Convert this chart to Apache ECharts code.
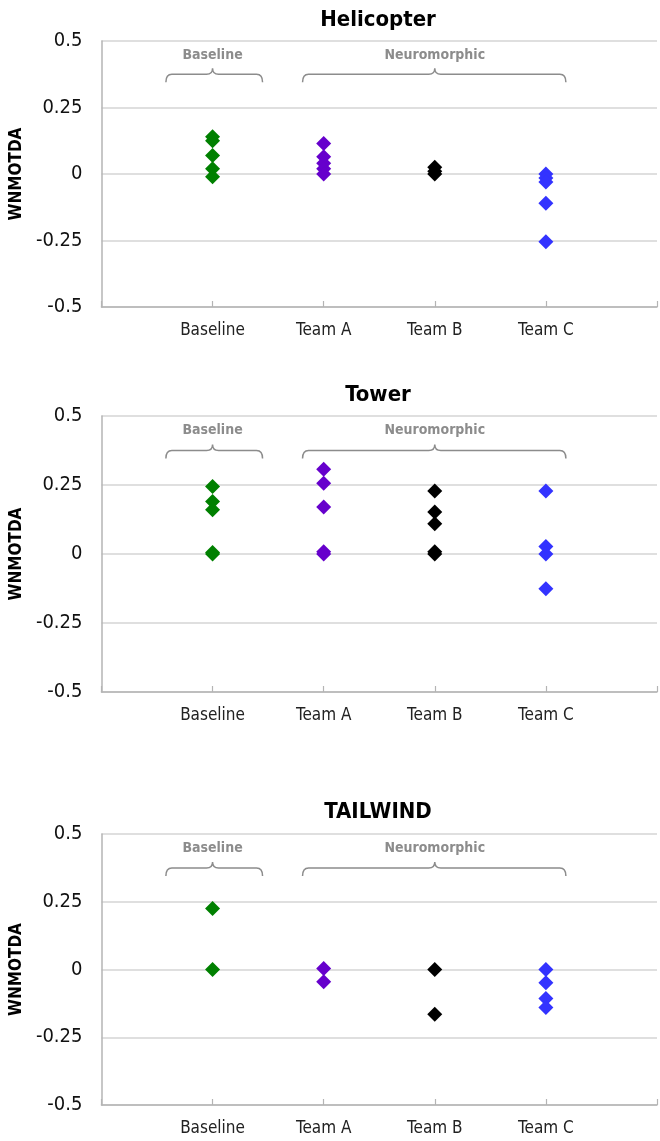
<!DOCTYPE html>
<html>
<head>
<meta charset="utf-8">
<script src="https://cdn.jsdelivr.net/npm/echarts@6/dist/echarts.min.js"></script>
<style>
html,body{margin:0;padding:0;background:#fff;}
#chart{width:660px;height:1141px;}
</style>
</head>
<body>
<div id="chart"></div>
<script>
// ---------- data ----------
const categories = ['Baseline', 'Team A', 'Team B', 'Team C'];
const panelTitles = ['Helicopter', 'Tower', 'TAILWIND'];
const yTickValues = [-0.5, -0.25, 0, 0.25, 0.5];
const yAxisTitle = 'WNMOTDA';

// Helicopter
const heliBaseline = [0.14, 0.125, 0.07, 0.02, -0.01];
const heliTeamA = [0.115, 0.065, 0.04, 0.02, 0.0];
const heliTeamB = [0.025, 0.01, 0.0];
const heliTeamC = [0.0, -0.015, -0.03, -0.11, -0.255];

// Tower
const towerBaseline = [0.245, 0.19, 0.16, 0.005, 0.0];
const towerTeamA = [0.307, 0.256, 0.17, 0.008, 0.0];
const towerTeamB = [0.228, 0.152, 0.11, 0.008, 0.0];
const towerTeamC = [0.228, 0.027, 0.0, -0.126];

// TAILWIND
const tailBaseline = [0.225, 0.0];
const tailTeamA = [0.004, -0.045];
const tailTeamB = [0.0, -0.165];
const tailTeamC = [0.0, -0.049, -0.107, -0.14];

// bracket groups (in category-index units; category i sits at i+1)
const groupNames = ['Baseline', 'Neuromorphic'];
const groupStart = [0.58, 1.81];
const groupEnd = [1.45, 4.18];
const groupCenter = [1, 3];

const panelData = [
  [heliBaseline, heliTeamA, heliTeamB, heliTeamC],
  [towerBaseline, towerTeamA, towerTeamB, towerTeamC],
  [tailBaseline, tailTeamA, tailTeamB, tailTeamC]
];

// ---------- styles / layout ----------
const FONT = '"DejaVu Sans Condensed", "DejaVu Sans", sans-serif';
const teamColors = ['#008000', '#6600cc', '#000000', '#3333ff'];
const gridTops = [41, 416, 834];
const gridHeights = [266, 276, 271];
const titleY = [20, 395, 812];
const plotLeft = 97;
const plotCenterX = 378;

const grids = [], xAxes = [], yAxes = [], series = [], graphics = [];

panelData.forEach((teams, p) => {
  grids.push({ left: plotLeft, right: 0, top: gridTops[p], height: gridHeights[p], containLabel: false });
  xAxes.push({
    type: 'value', gridIndex: p, min: 0, max: 5, interval: 1,
    axisLine: { show: true, onZero: false, lineStyle: { color: '#b4b4b4', width: 1.5 } },
    axisTick: { show: true, inside: true, length: 6, lineStyle: { color: '#b4b4b4', width: 1.2 } },
    splitLine: { show: false },
    axisLabel: {
      color: '#222', fontFamily: FONT, fontSize: 17, margin: 15,
      formatter: v => categories[v - 1] || ''
    }
  });
  yAxes.push({
    type: 'value', gridIndex: p, min: -0.5, max: 0.5, interval: 0.25,
    name: yAxisTitle, nameLocation: 'middle', nameGap: 76, nameRotate: 90,
    nameTextStyle: { fontFamily: FONT, fontWeight: 'bold', fontSize: 17, color: '#000' },
    axisLine: { show: true, onZero: false, lineStyle: { color: '#b4b4b4', width: 1.5 } },
    axisTick: { show: false },
    splitLine: { show: true, lineStyle: { color: '#d4d4d4', width: 1.5 } },
    axisLabel: {
      color: '#111', fontFamily: FONT, fontSize: 20, margin: 19,
      formatter: v => { const t = yTickValues.find(x => Math.abs(x - v) < 1e-9); return String(t !== undefined ? t : v); }
    }
  });
  teams.forEach((vals, t) => {
    series.push({
      name: categories[t], type: 'scatter', xAxisIndex: p, yAxisIndex: p,
      symbol: 'diamond', symbolSize: 15,
      itemStyle: { color: teamColors[t], opacity: 1 },
      emphasis: { disabled: true },
      data: vals.map(v => [t + 1, v]),
      z: 3
    });
  });
  // brackets
  series.push({
    type: 'custom', xAxisIndex: p, yAxisIndex: p, silent: true, z: 2,
    data: groupNames.map((n, i) => [groupStart[i], groupEnd[i], groupCenter[i]]),
    renderItem: (params, api) => {
      const i = params.dataIndex;
      const a = api.coord([api.value(0), 0.375]);
      const b = api.coord([api.value(1), 0.375]);
      const m = api.coord([api.value(2), 0.375]);
      const tpos = api.coord([api.value(2), 0.447]);
      const y = a[1], x0 = a[0], x1 = b[0], xm = m[0];
      const r = 6, h = 6;
      const path = `M${x0},${y + r + 2} Q${x0},${y} ${x0 + r},${y} L${xm - h},${y} Q${xm},${y} ${xm},${y - h} Q${xm},${y} ${xm + h},${y} L${x1 - r},${y} Q${x1},${y} ${x1},${y + r + 2}`;
      return {
        type: 'group',
        children: [
          { type: 'path', shape: { pathData: path }, style: { stroke: '#8c8c8c', lineWidth: 1.5, fill: null } },
          { type: 'text', style: { text: groupNames[i], x: tpos[0], y: tpos[1], align: 'center', verticalAlign: 'middle', fill: '#8c8c8c', font: 'bold 14px ' + FONT } }
        ]
      };
    }
  });
  graphics.push({
    type: 'text', x: plotCenterX, y: titleY[p],
    style: { text: panelTitles[p], align: 'center', verticalAlign: 'middle', fill: '#000', font: 'bold 22px ' + FONT }
  });
});

const chart = echarts.init(document.getElementById('chart'), null, { renderer: 'canvas' });
chart.setOption({
  backgroundColor: '#fff',
  animation: false,
  grid: grids,
  xAxis: xAxes,
  yAxis: yAxes,
  series: series,
  graphic: graphics
});
</script>
</body>
</html>
